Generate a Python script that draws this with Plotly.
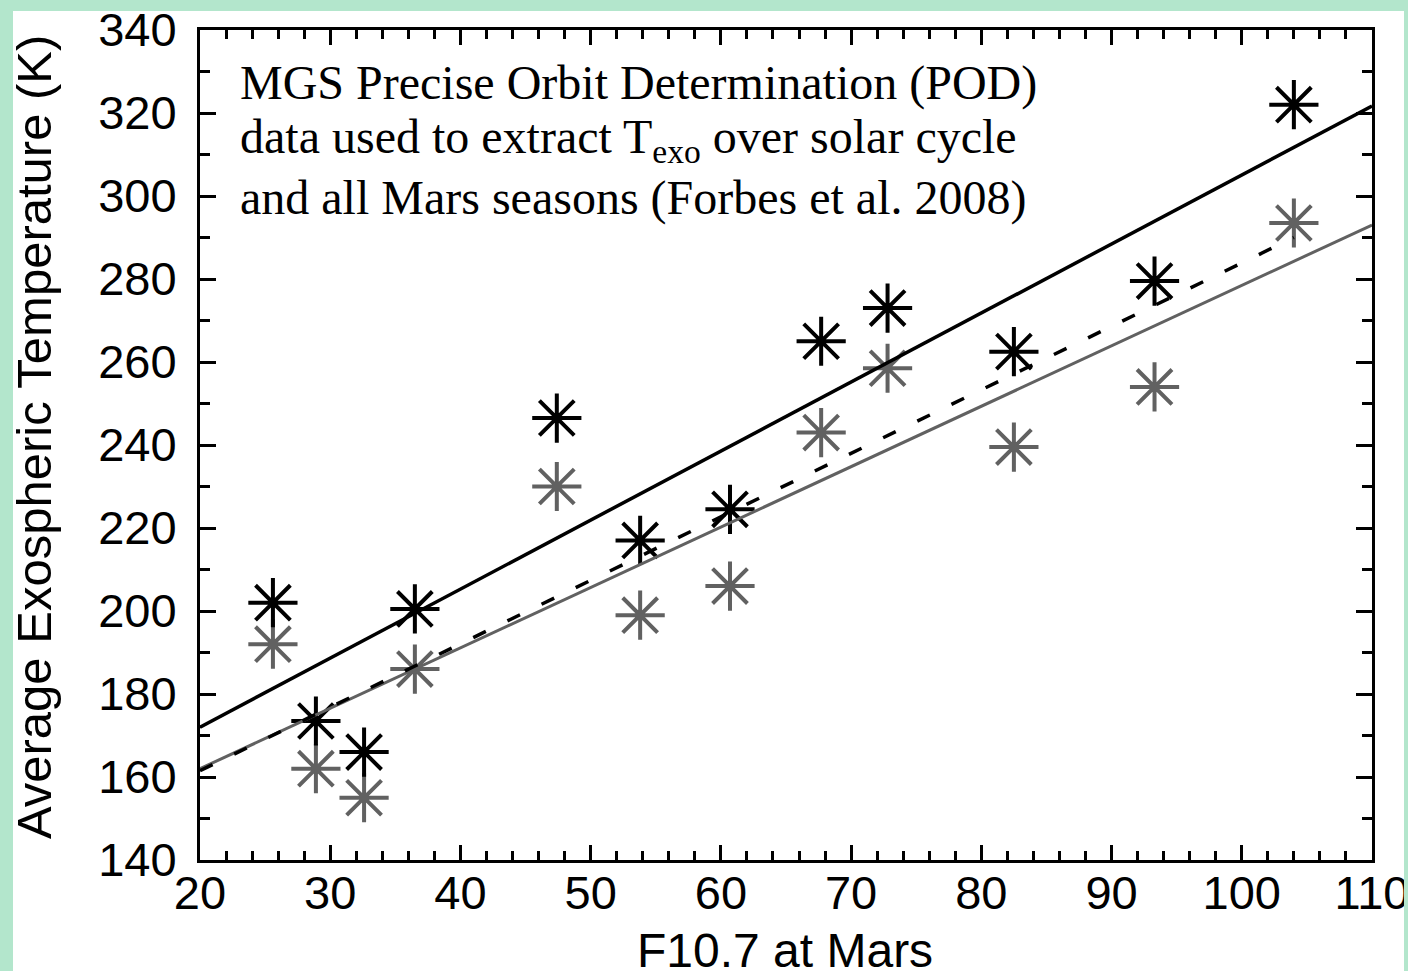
import plotly.graph_objects as go

# ---- data ----
f107 = [25.6, 28.9, 32.6, 36.5, 47.4, 53.8, 60.7, 67.7, 72.8, 82.5, 93.3, 104.0]
t_black = [202.0, 173.5, 166.0, 200.5, 246.5, 217.0, 224.5, 265.0, 273.0, 262.5, 279.5, 322.0]
t_gray = [192.0, 162.0, 155.0, 186.0, 230.0, 199.0, 206.0, 243.0, 258.5, 239.5, 254.0, 293.5]

fit_black_x = [20, 110]
fit_black_y = [172.0, 321.7]
fit_gray_x = [20, 110]
fit_gray_y = [162.0, 293.0]
fit_dash_x = [20, 104]
fit_dash_y = [161.5, 290.0]

x_ticks = [20, 30, 40, 50, 60, 70, 80, 90, 100, 110]
y_ticks = [140, 160, 180, 200, 220, 240, 260, 280, 300, 320, 340]

note_lines = [
    "MGS Precise Orbit Determination (POD)",
    "data used to extract T<sub>exo</sub> over solar cycle",
    "and all Mars seasons (Forbes et al. 2008)",
]

GRAY = "#616161"
GREEN = "#b3e6cc"

W, H = 1408, 971
L, R, T, B = 200, 1408 - 1372, 30, 971 - 860
PW, PH = W - L - R, H - T - B


def px2x(px):
    return (px - L) / PW


def py2y(py):
    return (H - B - py) / PH


fig = go.Figure()

fig.add_trace(go.Scatter(
    x=f107, y=t_gray, mode="markers", cliponaxis=False,
    marker=dict(symbol="asterisk-open", size=41, color=GRAY,
                line=dict(color=GRAY, width=4)),
    showlegend=False))
fig.add_trace(go.Scatter(
    x=f107, y=t_black, mode="markers", cliponaxis=False,
    marker=dict(symbol="asterisk-open", size=41, color="black",
                line=dict(color="black", width=4)),
    showlegend=False))
fig.add_trace(go.Scatter(
    x=fit_gray_x, y=fit_gray_y, mode="lines",
    line=dict(color=GRAY, width=3), showlegend=False))
fig.add_trace(go.Scatter(
    x=fit_black_x, y=fit_black_y, mode="lines",
    line=dict(color="black", width=3.5), showlegend=False))
fig.add_trace(go.Scatter(
    x=fit_dash_x, y=fit_dash_y, mode="lines",
    line=dict(color="black", width=3.5, dash="14px,24px"), showlegend=False))

tickfont = dict(family="Liberation Sans, Arial, sans-serif", size=47, color="black")

fig.update_xaxes(
    range=[20, 110], tickvals=x_ticks, ticktext=[str(v) for v in x_ticks],
    showline=True, linewidth=3, linecolor="black", mirror="ticks",
    ticks="inside", ticklen=15, tickwidth=3, tickcolor="black",
    minor=dict(ticks="inside", ticklen=9, tickwidth=3, tickcolor="black", dtick=2, tick0=20),
    showgrid=False, zeroline=False, tickfont=tickfont, ticklabelstandoff=-10,
    automargin=False, ticklabeloverflow="allow",
)
fig.update_yaxes(
    range=[140, 340], tickvals=y_ticks, ticktext=[str(v) for v in y_ticks],
    showline=True, linewidth=3, linecolor="black", mirror="ticks",
    ticks="inside", ticklen=16, tickwidth=3, tickcolor="black",
    minor=dict(ticks="inside", ticklen=10, tickwidth=3, tickcolor="black", dtick=10, tick0=140),
    showgrid=False, zeroline=False, tickfont=tickfont, ticklabelstandoff=11,
    automargin=False, ticklabeloverflow="allow",
)

annotations = []
for i, line in enumerate(note_lines):
    annotations.append(dict(
        text=line, xref="paper", yref="paper", x=px2x(238), y=py2y(83 + 57.5 * i),
        xanchor="left", yanchor="middle", showarrow=False, align="left",
        font=dict(family="Liberation Serif, Times New Roman, serif", size=48, color="black")))

annotations.append(dict(
    text="F10.7 at Mars", xref="paper", yref="paper", x=px2x(785), y=py2y(950),
    xanchor="center", yanchor="middle", showarrow=False,
    font=dict(family="Liberation Sans, Arial, sans-serif", size=48, color="black")))
annotations.append(dict(
    text="Average Exospheric Temperature (K)", xref="paper", yref="paper",
    x=px2x(34), y=py2y(437), xanchor="center", yanchor="middle", textangle=-90,
    showarrow=False,
    font=dict(family="Liberation Sans, Arial, sans-serif", size=49, color="black")))

shapes = [
    dict(type="rect", xref="paper", yref="paper", layer="above",
         x0=px2x(0), x1=px2x(13), y0=py2y(H), y1=py2y(0),
         fillcolor=GREEN, line=dict(width=0)),
    dict(type="rect", xref="paper", yref="paper", layer="above",
         x0=px2x(0), x1=px2x(W), y0=py2y(11), y1=py2y(0),
         fillcolor=GREEN, line=dict(width=0)),
    dict(type="rect", xref="paper", yref="paper", layer="above",
         x0=px2x(1404), x1=px2x(W), y0=py2y(H), y1=py2y(0),
         fillcolor=GREEN, line=dict(width=0)),
]

fig.update_layout(
    width=W, height=H, autosize=False,
    margin=dict(l=L, r=R, t=T, b=B, pad=0),
    paper_bgcolor="white", plot_bgcolor="white",
    annotations=annotations, shapes=shapes,
    showlegend=False,
)

fig.write_html("out.html", include_plotlyjs=True, config={"displayModeBar": False})
